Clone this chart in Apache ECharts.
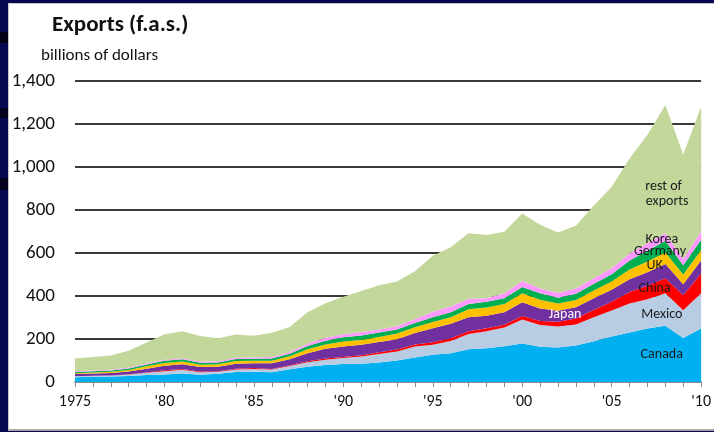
<!DOCTYPE html>
<html>
<head>
<meta charset="utf-8">
<script src="https://cdn.jsdelivr.net/npm/echarts@6/dist/echarts.min.js"></script>
<style>
  html, body { margin: 0; padding: 0; width: 714px; height: 432px; overflow: hidden; }
  body { background: linear-gradient(to bottom,
      #07074f 0, #07074f 32px, #020214 32px, #020214 43px, #07074f 43px,
      #07074f 108px, #030320 108px, #030320 118px, #07074f 118px,
      #07074f 178px, #030320 178px, #030320 190px, #07074f 190px, #07074f 100%); }
  #frame { position: absolute; left: 8px; top: 3px; width: 705px; height: 425px; background: #fff;
           border-left: 1px solid #c8c8c8; border-top: 1px solid #c8c8c8; border-bottom: 2px solid #a8a8a8; }
  #chart { position: absolute; left: 0; top: 0; width: 714px; height: 432px; }
</style>
</head>
<body>
<div id="frame"></div>
<div id="chart"></div>
<script>
const years = ["1975", "1976", "1977", "1978", "1979", "1980", "1981", "1982", "1983", "1984", "1985", "1986",
  "1987", "1988", "1989", "1990", "1991", "1992", "1993", "1994", "1995", "1996", "1997", "1998",
  "1999", "2000", "2001", "2002", "2003", "2004", "2005", "2006", "2007", "2008", "2009", "2010"];
const xTickLabels = ["1975", "'80", "'85", "'90", "'95", "'00", "'05", "'10"];
const yTicks = [0, 200, 400, 600, 800, 1000, 1200, 1400];

// billions of dollars, stacked bottom to top
const canada = [21.7, 24.1, 25.8, 28.4, 33.1, 35.4, 39.6, 33.7, 38.2, 46.5, 47.3, 45.3,
  59.8, 70.9, 78.8, 83.7, 85.1, 90.2, 100.4, 114.4, 127.2, 134.2, 151.8, 156.6,
  166.6, 178.9, 163.4, 160.9, 169.9, 189.9, 211.9, 230.7, 249.0, 261.1, 204.7, 249.3];
const mexico = [5.1, 5.0, 4.8, 6.7, 9.8, 15.1, 17.8, 11.8, 9.1, 12.0, 13.6, 12.4,
  14.6, 20.6, 25.0, 28.3, 33.3, 40.6, 41.6, 50.8, 46.3, 56.8, 71.4, 79.0,
  87.0, 111.3, 101.3, 97.5, 97.4, 110.8, 120.2, 134.0, 136.0, 151.2, 128.9, 163.7];
const china = [0.3, 0.1, 0.2, 0.8, 1.7, 3.8, 3.6, 2.9, 2.2, 3.0, 3.9, 3.1,
  3.5, 5.0, 5.8, 4.8, 6.3, 7.4, 8.8, 9.3, 11.8, 12.0, 12.9, 14.2,
  13.1, 16.2, 19.2, 22.1, 28.4, 34.4, 41.2, 53.7, 62.9, 69.7, 69.5, 91.9];
const japan = [9.6, 10.1, 10.5, 12.9, 17.6, 20.8, 21.8, 21.0, 21.9, 23.6, 22.6, 26.9,
  28.2, 37.7, 44.5, 48.6, 48.1, 47.8, 47.9, 53.5, 64.3, 67.6, 65.5, 57.8,
  57.5, 64.9, 57.5, 51.4, 52.1, 54.2, 55.4, 59.6, 62.7, 66.6, 51.1, 60.5];
const uk = [4.5, 4.8, 5.9, 7.1, 10.6, 12.7, 12.4, 10.6, 10.6, 12.2, 11.3, 11.4,
  14.1, 18.4, 20.8, 23.5, 22.1, 22.8, 26.4, 26.9, 28.9, 30.9, 36.4, 39.1,
  38.4, 41.6, 40.8, 33.3, 33.9, 36.0, 38.6, 45.4, 50.2, 53.6, 45.7, 48.4];
const germany = [5.2, 5.7, 5.9, 6.9, 8.5, 11.0, 10.3, 9.3, 8.7, 9.1, 9.1, 10.6,
  11.7, 14.3, 16.9, 18.8, 21.3, 21.2, 19.0, 19.2, 22.4, 23.5, 24.5, 26.6,
  26.8, 29.4, 30.1, 26.6, 28.8, 31.4, 34.2, 41.3, 49.7, 54.7, 43.3, 48.2];
const korea = [3.4, 3.9, 4.1, 5.1, 4.2, 4.7, 5.1, 5.5, 5.9, 6.0, 6.0, 6.4,
  8.1, 11.3, 13.5, 14.4, 15.5, 14.6, 14.8, 18.0, 25.4, 26.6, 25.0, 16.5,
  22.9, 27.8, 22.2, 22.6, 24.1, 26.3, 27.7, 32.5, 34.4, 34.8, 28.6, 38.8];
const restOfExports = [60, 63, 66, 77, 98, 119, 125, 119, 107, 109, 101, 113,
  116, 146, 161, 174, 192, 205, 208, 223, 261, 275, 304, 294,
  286, 314, 297, 281, 292, 338, 379, 442, 505, 597, 486, 580];

const seriesNames = ["Canada", "Mexico", "China", "Japan", "UK", "Germany", "Korea", "rest of exports"];
const seriesData = [canada, mexico, china, japan, uk, germany, korea, restOfExports];
const seriesColors = ["#00b0f0", "#b8cce4", "#ff0000", "#7030a0", "#ffc000", "#00b050", "#ff99ff", "#c4d79b"];

// in-chart labels, anchored in data space (fractional year, value)
const labelSpots = [
  { text: "Canada", x: 2007.8, y: 126, color: "#1a1a1a" },
  { text: "Mexico", x: 2007.8, y: 312, color: "#1a1a1a" },
  { text: "China", x: 2007.4, y: 433, color: "#1a1a1a" },
  { text: "Japan", x: 2002.4, y: 312, color: "#ffffff" },
  { text: "UK", x: 2007.4, y: 544, color: "#1a1a1a" },
  { text: "Germany", x: 2007.7, y: 609, color: "#1a1a1a" },
  { text: "Korea", x: 2007.8, y: 665, color: "#1a1a1a" },
  { text: "rest of", x: 2007.9, y: 910, color: "#1a1a1a" },
  { text: "exports", x: 2008.1, y: 838, color: "#1a1a1a" }
];

const FONT = "Carlito, Lato, sans-serif";
const chart = echarts.init(document.getElementById("chart"), null, { renderer: "canvas" });

chart.setOption({
  backgroundColor: "transparent",
  animation: false,
  grid: { left: 75, right: 10, top: 81, bottom: 50, containLabel: false },
  xAxis: {
    type: "category",
    data: years,
    boundaryGap: false,
    splitLine: { show: false },
    axisLine: { show: true, lineStyle: { color: "#8c8c8c", width: 2 } },
    axisTick: { show: true, interval: 0, length: 5, lineStyle: { color: "#8c8c8c", width: 1 } },
    axisLabel: {
      interval: 4,
      margin: 12,
      color: "#111",
      fontFamily: FONT,
      fontSize: 16,
      formatter: (v, i) => xTickLabels[i / 5] || ""
    }
  },
  yAxis: {
    type: "value",
    min: yTicks[0],
    max: yTicks[yTicks.length - 1],
    interval: 200,
    axisLine: { show: false },
    axisTick: { show: false },
    splitLine: { show: true, lineStyle: { color: "#3a3a3a", width: 2 } },
    axisLabel: {
      margin: 20,
      color: "#111",
      fontFamily: FONT,
      fontSize: 19,
      formatter: v => v.toLocaleString("en-US")
    }
  },
  series: seriesNames.map((name, i) => ({
    name,
    type: "line",
    stack: "total",
    symbol: "none",
    smooth: false,
    lineStyle: { width: 0 },
    areaStyle: { color: seriesColors[i], opacity: 1 },
    data: seriesData[i]
  }))
});

function yearToPixel(yr, val) {
  const i0 = Math.floor(yr - 1975);
  const t = yr - 1975 - i0;
  const a = chart.convertToPixel({ gridIndex: 0 }, [years[i0], val]);
  const b = chart.convertToPixel({ gridIndex: 0 }, [years[Math.min(i0 + 1, years.length - 1)], val]);
  return [a[0] + (b[0] - a[0]) * t, a[1]];
}

const graphics = [
  {
    type: "text", left: 52, top: 14, z: 100,
    style: { text: "Exports (f.a.s.)", font: "bold 23px " + FONT, fill: "#111" }
  },
  {
    type: "text", left: 41, top: 47, z: 100,
    style: { text: "billions of dollars", font: "17px " + FONT, fill: "#111" }
  }
];
labelSpots.forEach(s => {
  const p = yearToPixel(s.x, s.y);
  graphics.push({
    type: "text", x: p[0], y: p[1], z: 100,
    style: { text: s.text, font: "14px " + FONT, fill: s.color, align: "center", verticalAlign: "middle" }
  });
});
chart.setOption({ graphic: graphics });
</script>
</body>
</html>
